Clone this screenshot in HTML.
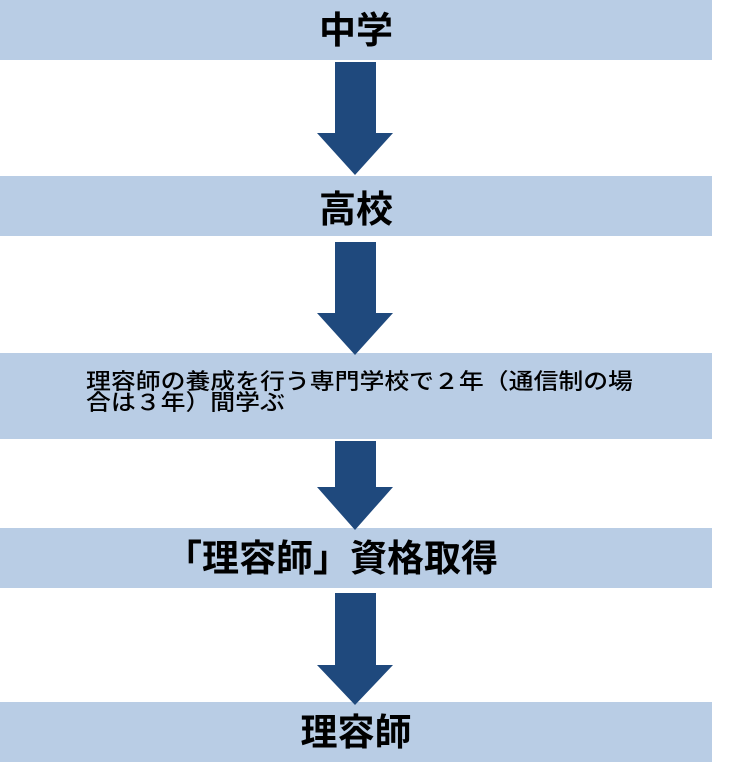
<!DOCTYPE html>
<html lang="ja">
<head>
<meta charset="utf-8">
<style>
  html, body { margin:0; padding:0; }
  body { width:736px; height:764px; position:relative; background:#ffffff; overflow:hidden;
         font-family:"Liberation Sans","Noto Sans CJK JP",sans-serif; color:#000; }
  .box { position:absolute; left:0; width:712px; background:#b9cde5; }
  .h { position:absolute; left:0; width:712px; text-align:center; font-size:37px; font-weight:bold; line-height:37px; white-space:nowrap; }
  .t { position:absolute; left:86px; font-size:22px; line-height:21px; letter-spacing:0; white-space:nowrap; font-weight:500;
       transform:scaleX(1.13); transform-origin:0 0; }
  svg { position:absolute; left:0; top:0; }
</style>
</head>
<body>
  <div class="box" style="top:0;height:60px;"></div>
  <div class="box" style="top:176px;height:60px;"></div>
  <div class="box" style="top:353px;height:86px;"></div>
  <div class="box" style="top:528px;height:60px;"></div>
  <div class="box" style="top:702px;height:60px;"></div>

  <svg width="736" height="764" viewBox="0 0 736 764">
    <g fill="#1f497d">
      <polygon points="335,62 376,62 376,133 393,133 355,175 317,133 335,133"/>
      <polygon points="335,242 376,242 376,313 393,313 355,355 317,313 335,313"/>
      <polygon points="335,441 376,441 376,487 393,487 355,530 317,487 335,487"/>
      <polygon points="335,593 376,593 376,665 393,665 355,705 317,665 335,665"/>
    </g>
  </svg>

  <div class="h" style="top:12px;">中学</div>
  <div class="h" style="top:191px;">高校</div>
  <div class="t" style="top:371px;">理容師の養成を行う専門学校で２年（通信制の場</div>
  <div class="t" style="top:392px;">合は３年）間学ぶ</div>
  <div class="h" style="top:540px;left:165px;width:auto;text-align:left;">「理容師」資格取得</div>
  <div class="h" style="top:714px;">理容師</div>
</body>
</html>
